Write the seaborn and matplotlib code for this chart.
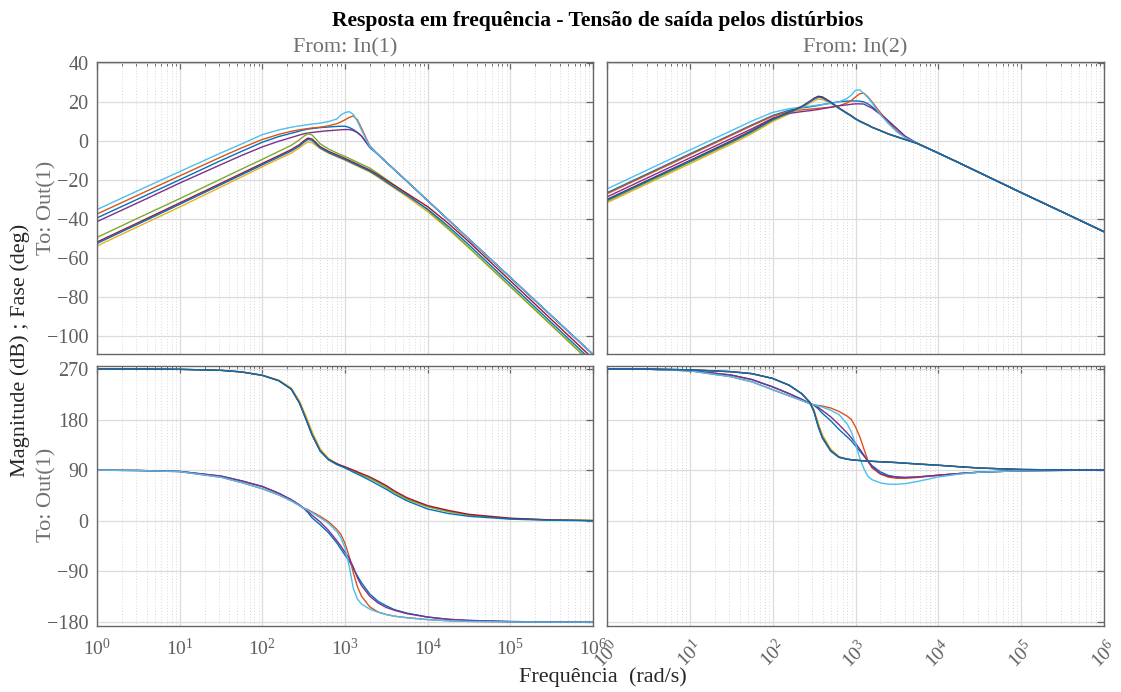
import matplotlib
matplotlib.use("Agg")
import matplotlib.pyplot as plt
from matplotlib.ticker import LogLocator, FixedLocator, NullFormatter, FixedFormatter
import pandas as pd
import seaborn as sns

# Frequency samples (rad/s) shared by every response
w = [1, 3.16, 10, 31.6, 56.2, 100, 158, 224, 282, 316, 355, 398, 501, 631, 794,
     891, 1000, 1122, 1259, 1413, 1585, 1995, 2512, 3162, 3981, 5623, 1e4,
     17783, 31623, 1e5, 316228, 1e6]

systems = ["sys1", "sys2", "sys3", "sys4", "sys5", "sys6", "sys7", "sys8"]
line_colors = ["#0072BD", "#D95319", "#EDB120", "#7E2F8E",
               "#77AC30", "#4DBEEE", "#A2142F", "#0072BD"]

# Common high-frequency asymptote of the resonant responses (In(1), dB)
tail_in1 = [-7.0, -11.0, -14.9, -20.8, -30.7, -40.6, -50.5, -70.2, -90.0, -109.7]

# Magnitude (dB), input 1
mag_in1 = [
    [-39.6, -29.8, -20.0, -10.1, -5.4, -0.7, 2.2, 3.9, 5.0, 5.6, 6.0, 6.3, 6.8, 7.1, 7.4, 7.5,
     7.5, 6.9, 5.8, 4.3, 2.5, -3.5] + tail_in1,
    [-37.6, -27.8, -18.0, -8.3, -3.6, 0.7, 3.3, 4.9, 5.7, 6.0, 6.3, 6.6, 7.0, 7.7, 8.8, 9.7,
     10.8, 12.0, 12.8, 10.8, 6.5, -2.6] + tail_in1,
    [-54.0, -44.0, -34.0, -23.7, -18.5, -13.3, -9.3, -6.3, -3.6, -1.9, -0.6, -0.9, -4.0, -6.3,
     -8.2, -9.1, -10.0, -11.0, -12.0, -13.0, -14.0, -16.0, -18.7, -21.6, -24.4, -28.7, -36.4,
     -45.4, -55.0, -75.0, -95.0, -115.0],
    [-41.5, -31.7, -21.7, -12.2, -7.5, -3.1, -0.2, 1.7, 3.0, 3.6, 4.0, 4.3, 4.8, 5.2, 5.5, 5.7,
     5.8, 5.8, 5.3, 4.2, 2.4, -3.0] + tail_in1,
    [-49.6, -39.6, -29.7, -19.6, -14.5, -9.5, -5.4, -2.3, 0.6, 2.3, 3.6, 3.1, -1.5, -4.2,
     -6.2, -7.1, -8.0, -9.0, -10.0, -11.0, -12.0, -14.0, -16.8, -19.8, -22.8, -27.3, -35.6,
     -45.0, -54.8, -74.8, -94.8, -114.8],
    [-35.3, -25.5, -15.8, -6.2, -1.6, 3.2, 5.6, 7.0, 7.7, 8.0, 8.3, 8.6, 9.1, 9.9, 11.2, 13.3,
     14.5, 15.0, 13.6, 10.0, 5.5, -3.1] + tail_in1,
    [-52.0, -42.0, -31.9, -21.8, -16.7, -11.6, -7.6, -4.5, -1.9, -0.1, 1.4, 1.0, -3.0, -5.4,
     -7.2, -8.1, -9.0, -10.0, -11.0, -12.0, -13.0, -15.0, -17.5, -20.3, -23.0, -27.0, -33.8,
     -42.4, -51.9, -71.9, -91.9, -111.9],
    [-52.7, -42.7, -32.6, -22.5, -17.4, -12.3, -8.3, -5.2, -2.6, -0.8, 0.7, 0.3, -3.6, -6.0,
     -7.8, -8.7, -9.6, -10.6, -11.6, -12.6, -13.6, -15.6, -18.2, -21.1, -23.9, -28.0, -35.1,
     -43.9, -53.5, -73.5, -93.5, -113.5],
]

# Common -20 dB/dec tail (In(2), dB)
tail_in2 = [-1.4, -6.3, -11.3, -16.4, -26.6, -36.6, -46.7]

# Magnitude (dB), input 2
mag_in2 = [
    [-26.7, -16.7, -6.7, 3.2, 8.2, 13.0, 15.7, 16.9, 17.5, 17.8, 18.2, 18.6, 19.4, 20.1, 20.4,
     20.5, 20.5, 20.4, 20.0, 19.0, 17.5, 14.0, 10.2, 6.2, 2.3] + tail_in2,
    [-27.2, -17.2, -7.2, 2.8, 7.8, 12.6, 15.0, 15.9, 16.3, 16.5, 16.7, 16.9, 17.3, 18.0, 19.5,
     20.8, 22.5, 24.2, 24.5, 22.6, 20.0, 14.5, 9.5, 5.0, 2.0] + tail_in2,
    [-31.8, -21.8, -11.8, -1.7, 3.7, 9.9, 13.8, 16.9, 19.4, 20.6, 21.4, 21.2, 19.3, 16.6, 14.0,
     12.7, 11.2, 10.0, 9.0, 8.0, 7.0, 5.3, 3.5, 2.1, 0.7] + tail_in2,
    [-28.8, -18.8, -8.8, 1.2, 6.2, 11.6, 14.1, 15.0, 15.5, 15.8, 16.1, 16.5, 17.2, 18.0, 18.5,
     18.8, 19.0, 19.0, 18.9, 17.8, 16.8, 13.6, 10.0, 6.2, 2.3] + tail_in2,
    [-31.0, -21.0, -11.0, -0.9, 4.5, 10.6, 14.4, 17.4, 20.1, 21.5, 22.5, 22.2, 19.8, 16.8, 14.1,
     12.8, 11.3, 10.1, 9.1, 8.1, 7.0, 5.3, 3.5, 2.1, 0.7] + tail_in2,
    [-24.7, -14.7, -4.7, 5.2, 10.2, 14.6, 16.5, 17.3, 17.8, 18.1, 18.4, 18.7, 19.2, 20.0, 21.8,
     23.5, 26.0, 26.2, 24.3, 22.2, 19.5, 13.5, 8.7, 4.6, 1.6] + tail_in2,
    [-30.1, -20.1, -10.1, 0.0, 5.3, 11.2, 14.8, 17.7, 20.4, 21.9, 22.9, 22.6, 20.0, 16.9, 14.2,
     12.9, 11.4, 10.2, 9.2, 8.2, 7.0, 5.3, 3.5, 2.1, 0.7] + tail_in2,
    [-30.5, -20.5, -10.5, -0.5, 4.9, 10.9, 14.5, 17.4, 20.1, 21.5, 22.4, 22.1, 19.7, 16.7, 14.0,
     12.7, 11.2, 10.0, 9.0, 8.0, 6.9, 5.2, 3.4, 2.0, 0.6] + tail_in2,
]

# Phase (deg), input 1
phase_in1 = [
    [90, 89.5, 87.8, 79.5, 71, 61, 49, 37.5, 28, 22.5, 15, 5.5, -7, -21, -39, -50, -61, -71,
     -85, -98, -110, -130, -143, -151, -158, -164, -171, -175, -177, -179, -179.7, -180],
    [90, 89.4, 87.4, 77.5, 68, 57, 46, 35.5, 27, 22.5, 20, 16, 8, -1.5, -15, -24, -40, -63,
     -92, -117, -134, -153, -162, -166.5, -169.5, -172, -175.5, -177.5, -178.7, -179.6,
     -179.9, -180],
    [270, 269.8, 269.2, 267.5, 264.7, 259, 250, 236, 213, 196, 178, 159, 128, 111, 102, 98.5,
     95.3, 92, 88.7, 85.4, 82, 75.5, 68, 59.5, 50.5, 38.5, 25, 16.5, 10.2, 4.0, 1.4, 0.4],
    [90, 89.5, 87.8, 79.5, 71, 61, 49, 37.5, 28, 22.5, 17, 10, -2, -17, -35, -45, -56, -66,
     -82, -101, -115, -134, -146, -154, -159, -165, -171, -175, -177, -179, -179.7, -180],
    [270, 269.8, 269.2, 267.4, 264.5, 258.5, 249, 234, 209.5, 192, 173.5, 154.5, 125, 109.5,
     101, 98, 95, 91.8, 88.5, 85.3, 82, 75.5, 68, 59.5, 50.5, 38.5, 25, 16.5, 10.2, 4.0, 1.4,
     0.4],
    [90, 89.4, 87.4, 77.5, 68, 57, 46, 35.5, 27, 22.5, 19, 14.5, 5.5, -4.5, -19, -30, -48,
     -80, -120, -139, -148, -157, -162.5, -166.5, -169.5, -172.5, -175.5, -177.5, -178.7,
     -179.6, -179.9, -180],
    [270, 269.8, 269.2, 267.4, 264.5, 258.5, 249, 234, 209, 191, 172, 153, 124, 109, 101.5,
     98.5, 96, 93, 90, 87, 84, 78, 70.5, 62.5, 53, 41, 27, 18.5, 11.5, 4.7, 1.6, 0.5],
    [270, 269.8, 269.2, 267.4, 264.5, 258.5, 249, 234, 209, 191, 172.5, 153.5, 124, 108.5,
     100, 97, 94, 90.3, 86.5, 83, 79.5, 72, 64, 56, 47, 35.5, 21, 13, 8, 3, 1.0, 0.3],
]

# Phase (deg), input 2
phase_in2 = [
    [270, 269.4, 267, 259, 251, 238, 226, 216, 208.5, 205, 199, 191, 178, 162.5, 149, 142,
     133, 124.5, 115.5, 106.5, 98, 87, 80.5, 78, 77, 78, 81, 84, 86.5, 89, 89.7, 90],
    [270, 269.3, 266.5, 256, 247, 233, 222, 214, 208, 206, 205, 204, 200.5, 194.5, 186, 180,
     167, 150, 128.5, 107, 94, 83, 77.5, 75.5, 75.5, 77, 81, 84, 86.5, 89, 89.7, 90],
    [270, 269.6, 268.3, 265, 261.5, 253, 241, 226, 211, 197, 173, 153, 127.5, 114, 109.8,
     108.7, 107.8, 107.2, 106.7, 106.2, 105.8, 105, 104.3, 103.5, 102.5, 101, 98.8, 96.2,
     93.8, 91.2, 90.4, 90.1],
    [270, 269.4, 267, 259, 251, 238, 226, 216, 208.5, 206, 201.5, 196, 185, 171, 156, 147.5,
     138, 127.5, 117, 105.5, 96, 84, 79, 77.5, 77, 78, 81, 84, 86.5, 89, 89.7, 90],
    [270, 269.6, 268.3, 265, 261.5, 253, 241, 226, 210, 195, 170, 150, 125.5, 113.5, 109.6,
     108.6, 107.8, 107.2, 106.7, 106.2, 105.8, 105, 104.3, 103.5, 102.5, 101, 98.8, 96.2,
     93.8, 91.2, 90.4, 90.1],
    [270, 269.3, 266.5, 256, 247, 233, 222, 214, 208, 206, 204, 202, 196.5, 189, 172, 158,
     137, 112, 93, 79, 73, 67.5, 65, 65, 66, 70, 78, 83, 86.5, 89, 89.7, 90],
    [270, 269.6, 268.3, 265, 261.5, 253, 241, 226, 210, 194, 168, 148, 124.5, 113, 109.5,
     108.5, 107.8, 107.2, 106.7, 106.2, 105.8, 105, 104.3, 103.5, 102.5, 101, 98.8, 96.2,
     93.8, 91.2, 90.4, 90.1],
    [270, 269.6, 268.3, 265, 261.5, 253, 241, 226, 210, 193, 167, 147, 124, 112.8, 109.4,
     108.4, 107.7, 107.1, 106.6, 106.1, 105.7, 104.9, 104.2, 103.4, 102.4, 100.9, 98.7, 96.1,
     93.7, 91.2, 90.4, 90.1],
]

decade_ticks = [1, 10, 100, 1000, 1e4, 1e5, 1e6]
decade_labels = ["$10^{0}$", "$10^{1}$", "$10^{2}$", "$10^{3}$", "$10^{4}$", "$10^{5}$", "$10^{6}$"]
mag_ticks = [40, 20, 0, -20, -40, -60, -80, -100]
phase_ticks = [270, 180, 90, 0, -90, -180]

sns.set_theme(style="white")
plt.rcParams["font.family"] = ["Liberation Serif", "DejaVu Serif"]
plt.rcParams["mathtext.fontset"] = "custom"
plt.rcParams["mathtext.rm"] = "Liberation Serif"
plt.rcParams["mathtext.it"] = "Liberation Serif:italic"

W, H = 1121, 692
fig = plt.figure(figsize=(W / 100, H / 100), dpi=100)
fig.patch.set_facecolor("white")


def px_axes(x0, y0, x1, y1):
    return fig.add_axes([x0 / W, 1 - y1 / H, (x1 - x0) / W, (y1 - y0) / H])


ax_m1 = px_axes(97, 62, 593, 354)
ax_m2 = px_axes(607, 62, 1104, 354)
ax_p1 = px_axes(97, 365.5, 593, 625.5)
ax_p2 = px_axes(607, 365.5, 1104, 625.5)

palette = dict(zip(systems, line_colors))
tick_grey = "#5f5f5f"
axis_grey = "#666666"


def fmt(v):
    return str(v).replace("-", "\u2212")


def long_frame(values):
    parts = [pd.DataFrame({"w": w, "value": ys, "system": name})
             for name, ys in zip(systems, values)]
    return pd.concat(parts, ignore_index=True)


def draw(ax, values, ylim, yticks):
    ax.set_xscale("log")
    sns.lineplot(data=long_frame(values), x="w", y="value", hue="system",
                 hue_order=systems, palette=palette, estimator=None, sort=False,
                 legend=False, linewidth=1.0, ax=ax)
    ax.set_xlim(1, 1e6)
    ax.set_ylim(*ylim)
    ax.xaxis.set_major_locator(FixedLocator(decade_ticks))
    ax.xaxis.set_minor_locator(LogLocator(base=10, subs=range(2, 10), numticks=50))
    ax.xaxis.set_minor_formatter(NullFormatter())
    ax.yaxis.set_major_locator(FixedLocator(yticks))
    ax.set_xlabel("")
    ax.set_ylabel("")
    ax.grid(True, which="major", axis="both", color="#dcdcdc", linewidth=0.9)
    ax.grid(True, which="minor", axis="x", color="#d8d8d8", linewidth=0.7, linestyle=(0, (1, 2)))
    ax.set_axisbelow(True)
    for s in ax.spines.values():
        s.set_visible(True)
        s.set_color(axis_grey)
        s.set_linewidth(1.0)
    ax.tick_params(which="both", direction="in", top=True, right=True, color=axis_grey,
                   labelcolor=tick_grey, labelsize=14)
    ax.tick_params(which="major", length=5, width=0.9)
    ax.tick_params(which="minor", length=3, width=0.7)
    ax.set_facecolor("white")


draw(ax_m1, mag_in1, (-109.5, 40.5), mag_ticks)
draw(ax_m2, mag_in2, (-109.5, 40.5), mag_ticks)
draw(ax_p1, phase_in1, (-186, 276), phase_ticks)
draw(ax_p2, phase_in2, (-186, 276), phase_ticks)

for ax in (ax_m1, ax_m2):
    ax.xaxis.set_major_formatter(NullFormatter())
for ax in (ax_m2, ax_p2):
    ax.yaxis.set_major_formatter(NullFormatter())
ax_m1.yaxis.set_major_formatter(FixedFormatter([fmt(t) for t in mag_ticks]))
ax_p1.yaxis.set_major_formatter(FixedFormatter([fmt(t) for t in phase_ticks]))
ax_m1.tick_params(axis="y", pad=6, labelsize=14.5)
ax_p1.tick_params(axis="y", pad=6, labelsize=14.5)
ax_p1.xaxis.set_major_formatter(FixedFormatter(decade_labels))
ax_p2.xaxis.set_major_formatter(FixedFormatter(decade_labels))
ax_p1.tick_params(axis="x", pad=9)
ax_p2.tick_params(axis="x", pad=8)
for lab in ax_p2.get_xticklabels():
    lab.set_rotation(45)
    lab.set_ha("center")
    lab.set_va("top")

fig.text(598 / W, 1 - 21 / H, "Resposta em frequência - Tensão de saída pelos distúrbios",
         ha="center", va="center", fontsize=15.6, fontweight="bold", color="black")
fig.text(345 / W, 1 - 48 / H, "From: In(1)", ha="center", va="center", fontsize=16, color="#707070")
fig.text(855 / W, 1 - 48 / H, "From: In(2)", ha="center", va="center", fontsize=16, color="#707070")
fig.text(47 / W, 1 - 208 / H, "To: Out(1)", ha="center", va="center", rotation=90,
         fontsize=16, color="#707070")
fig.text(47 / W, 1 - 495 / H, "To: Out(1)", ha="center", va="center", rotation=90,
         fontsize=16, color="#707070")
fig.text(20 / W, 1 - 350 / H, "Magnitude (dB) ; Fase (deg)", ha="center", va="center",
         rotation=90, fontsize=16, color="#262626")
fig.text(603 / W, 1 - 677 / H, "Frequência  (rad/s)", ha="center", va="center",
         fontsize=16, color="#262626")

fig.savefig("out.png", dpi=100, facecolor="white")
